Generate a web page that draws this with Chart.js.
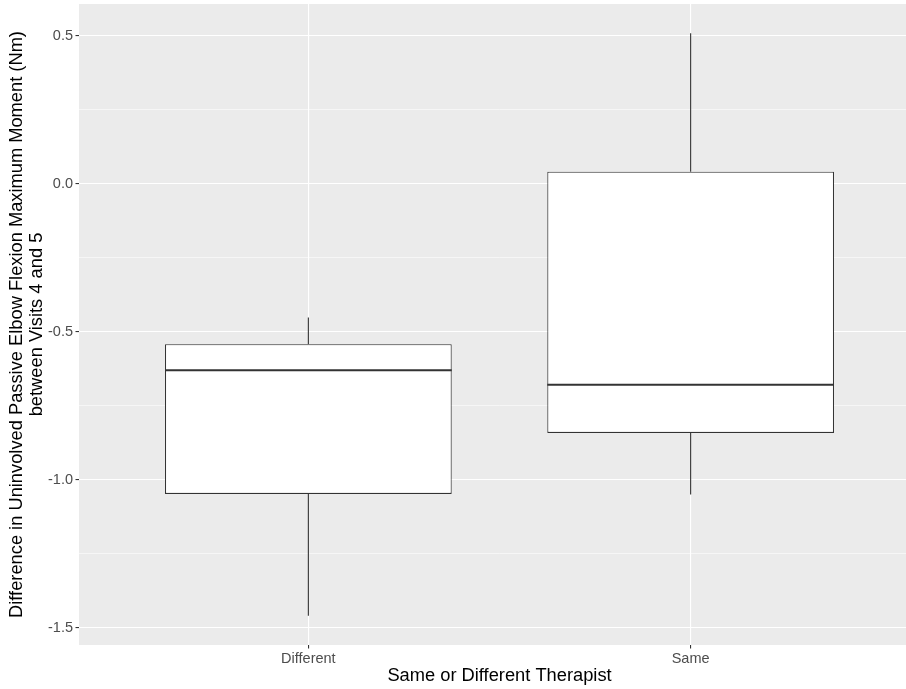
<!DOCTYPE html>
<html>
<head>
<meta charset="utf-8">
<script src="https://cdn.jsdelivr.net/npm/chart.js@4/dist/chart.umd.min.js"></script>
<style>
  html, body { margin: 0; padding: 0; background: #ffffff; overflow: hidden; }
  #wrap { position: relative; width: 920px; height: 689px; }
</style>
</head>
<body>
<div id="wrap"><canvas id="chart"></canvas></div>
<script>
// Box-plot summaries per therapist group (Nm)
const categories  = ['Different', 'Same'];
const whiskerLow  = [-1.460, -1.050];
const lowerQuart  = [-1.048, -0.842];
const medians     = [-0.630, -0.679];
const upperQuart  = [-0.542,  0.041];
const whiskerHigh = [-0.452,  0.509];
const yTickValues = [-1.5, -1.0, -0.5, 0.0, 0.5];

const BOX_WIDTH = 0.75;
const FONT = "'Liberation Sans', Arial, sans-serif";
const INK = '#333333';

// y range: data extent plus 5% on each side
const yLo = Math.min(...whiskerLow), yHi = Math.max(...whiskerHigh);
const yPad = (yHi - yLo) * 0.05;

// minor grid positions halfway between labelled ticks
const yAllTicks = [];
yTickValues.forEach((v, i) => {
  yAllTicks.push({ value: v, major: true });
  if (i < yTickValues.length - 1) yAllTicks.push({ value: (v + yTickValues[i + 1]) / 2, major: false });
});

const boxData = categories.map((c, i) => ({ x: i + 1, y: [lowerQuart[i], upperQuart[i]] }));

const whiskerData = [];
categories.forEach((c, i) => {
  whiskerData.push({ x: i + 1, y: whiskerHigh[i] }, { x: i + 1, y: upperQuart[i] }, { x: i + 1, y: null });
  whiskerData.push({ x: i + 1, y: lowerQuart[i] }, { x: i + 1, y: whiskerLow[i] }, { x: i + 1, y: null });
});

const medianData = [];
categories.forEach((c, i) => {
  medianData.push({ x: i + 1 - BOX_WIDTH / 2, y: medians[i] },
                  { x: i + 1 + BOX_WIDTH / 2, y: medians[i] },
                  { x: i + 1 + 0.5, y: null });
});

const panelBackground = {
  id: 'panelBackground',
  beforeDraw(chart) {
    const { ctx, chartArea: a } = chart;
    ctx.save();
    ctx.fillStyle = '#EBEBEB';
    ctx.fillRect(a.left, a.top, a.right - a.left, a.bottom - a.top);
    ctx.restore();
  }
};

function noEdgePadding(scale) {
  scale.paddingTop = 0; scale.paddingBottom = 0;
  scale.paddingLeft = 0; scale.paddingRight = 0;
}

new Chart(document.getElementById('chart'), {
  type: 'bar',
  data: {
    datasets: [
      {
        type: 'line', data: medianData, order: 0,
        borderColor: INK, borderWidth: 2.1, pointRadius: 0, spanGaps: false, fill: false
      },
      {
        type: 'bar', data: boxData, order: 1,
        backgroundColor: '#ffffff', borderColor: INK, borderWidth: 1.1, borderSkipped: false,
        categoryPercentage: 1, barPercentage: BOX_WIDTH
      },
      {
        type: 'line', data: whiskerData, order: 2,
        borderColor: INK, borderWidth: 1.1, pointRadius: 0, spanGaps: false, fill: false
      }
    ]
  },
  options: {
    responsive: true,
    maintainAspectRatio: false,
    animation: false,
    events: [],
    layout: { padding: { top: 4, right: 0, bottom: 0, left: 0 } },
    plugins: { legend: { display: false }, tooltip: { enabled: false } },
    scales: {
      x: {
        type: 'linear',
        offset: false,
        min: 0.4, max: categories.length + 0.6,
        afterBuildTicks(scale) { scale.ticks = categories.map((c, i) => ({ value: i + 1 })); },
        afterFit(scale) { scale.height = 44; noEdgePadding(scale); },
        border: { display: false },
        grid: { offset: false, color: '#ffffff', lineWidth: 1.1, tickColor: INK, tickWidth: 1.1, tickLength: 3.5 },
        ticks: {
          autoSkip: false, maxRotation: 0, padding: 1.5,
          color: '#4D4D4D', font: { family: FONT, size: 14.5 },
          callback: (v) => categories[Math.round(v) - 1]
        },
        title: {
          display: true, text: 'Same or Different Therapist', color: '#000000',
          font: { family: FONT, size: 18.3, lineHeight: 20 / 18.3 },
          padding: { top: 0, bottom: 3 }
        }
      },
      y: {
        type: 'linear',
        min: yLo - yPad, max: yHi + yPad,
        afterBuildTicks(scale) { scale.ticks = yAllTicks.map(t => ({ value: t.value, major: t.major })); },
        afterFit(scale) { scale.width = 79; noEdgePadding(scale); },
        border: { display: false },
        grid: {
          color: '#ffffff',
          lineWidth: (c) => (c.tick && c.tick.major ? 1.1 : 0.55),
          tickColor: (c) => (c.tick && c.tick.major ? INK : 'rgba(0,0,0,0)'),
          tickWidth: 1.1, tickLength: 3.5
        },
        ticks: {
          autoSkip: false, padding: 2.5,
          color: '#4D4D4D', font: { family: FONT, size: 14.5 },
          callback: (v) => (yTickValues.some(t => Math.abs(t - v) < 1e-9) ? v.toFixed(1) : '')
        },
        title: {
          display: true,
          text: ['Difference in Uninvolved Passive Elbow Flexion Maximum Moment (Nm)', 'between Visits 4 and 5'],
          color: '#000000',
          font: { family: FONT, size: 18.3, lineHeight: 20 / 18.3 },
          padding: { top: 7, bottom: 0 }
        }
      }
    }
  },
  plugins: [panelBackground]
});
</script>
</body>
</html>
